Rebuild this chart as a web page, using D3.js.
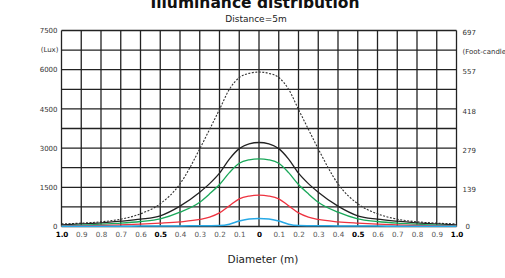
<!DOCTYPE html>
<html><head><meta charset="utf-8">
<script src="https://cdn.jsdelivr.net/npm/d3@7"></script>
<style>body{margin:0;background:#fff}svg{display:block}</style>
</head><body>
<svg id="c" width="505" height="278"></svg>
<script>
const diameter = [-1.0,-0.9,-0.8,-0.7,-0.6,-0.5,-0.4,-0.3,-0.25,-0.2,-0.15,-0.1,-0.05,0,0.05,0.1,0.15,0.2,0.25,0.3,0.4,0.5,0.6,0.7,0.8,0.9,1.0];
const rgbw  = [100,128,180,280,485,870,1630,2970,3720,4480,5250,5700,5860,5910,5860,5700,5250,4480,3720,2970,1630,870,485,280,180,128,100];
const white = [64,102,140,204,281,408,778,1314,1640,2040,2580,2980,3160,3214,3160,2980,2580,2040,1640,1314,778,408,281,204,140,102,64];
const green = [26,51,89,128,191,293,548,931,1250,1607,2060,2420,2550,2589,2550,2420,2060,1607,1250,931,548,293,191,128,89,51,26];
const red   = [13,26,38,64,89,128,179,270,360,520,790,1060,1165,1199,1165,1060,790,520,360,270,179,128,89,64,38,26,13];
const blue  = [5,8,10,12,15,18,22,26,28,34,85,210,288,306,288,210,85,34,28,26,22,18,15,12,10,8,5];
const xTicks = [-1,-0.9,-0.8,-0.7,-0.6,-0.5,-0.4,-0.3,-0.2,-0.1,0,0.1,0.2,0.3,0.4,0.5,0.6,0.7,0.8,0.9,1];
const boldTicks = [-1,-0.5,0,0.5,1];
const luxTicks = [0,1500,3000,4500,6000,7500];
const fcLabels = ["0","139","279","418","557","697"];
const legendNames = ["Red","Green","Blue","White","R+G+B+W"];

const svg = d3.select("#c");
const x = d3.scaleLinear().domain([-1,1]).range([61.5,456.5]);
const y = d3.scaleLinear().domain([0,7500]).range([226.5,30.5]);

// grid
const g = svg.append("g");
g.selectAll(".v").data(d3.range(-1,1.0001,0.1)).join("line")
 .attr("x1",d=>x(d)).attr("x2",d=>x(d)).attr("y1",y(7500)).attr("y2",y(0))
 .attr("stroke","#222").attr("stroke-width",1.3);
g.selectAll(".h").data(d3.range(0,7501,750)).join("line")
 .attr("x1",x(-1)).attr("x2",x(1)).attr("y1",d=>y(d)).attr("y2",d=>y(d))
 .attr("stroke","#222").attr("stroke-width",1.3);

// curves
const line = d3.line().x((d,i)=>x(diameter[i])).y(d=>y(d)).curve(d3.curveMonotoneX);
const series = [
 {v:rgbw, c:"#333", w:1.1, dash:"2,1.5"},
 {v:white, c:"#222", w:1.3},
 {v:green, c:"#1aa85a", w:1.3},
 {v:red, c:"#ee3340", w:1.3},
 {v:blue, c:"#27a9e6", w:1.5}
];
series.forEach(s=>{
  svg.append("path").datum(s.v).attr("d",line).attr("fill","none")
   .attr("stroke",s.c).attr("stroke-width",s.w).attr("stroke-dasharray",s.dash||null);
});

// x axis labels
const xa = svg.append("g").attr("transform",`translate(0,${y(0)})`)
 .call(d3.axisBottom(x).tickValues(xTicks).tickSize(0).tickPadding(5)
   .tickFormat(d=> d===0 ? "0" : Math.abs(d).toFixed(1)));
xa.select(".domain").remove();
xa.selectAll("text").attr("font-family","DejaVu Sans").attr("font-size",7.2)
 .attr("fill",d=>boldTicks.includes(d)?"#000":"#555")
 .attr("font-weight",d=>boldTicks.includes(d)?"bold":"normal");

// left axis labels
const ya = svg.append("g").attr("transform",`translate(${x(-1)},0)`)
 .call(d3.axisLeft(y).tickValues(luxTicks).tickSize(0).tickPadding(4).tickFormat(d3.format("d")));
ya.select(".domain").remove();
ya.selectAll("text").attr("font-family","DejaVu Sans").attr("font-size",7).attr("fill","#333");
svg.append("text").attr("x",x(-1)-3).attr("y",y(6750)).attr("dy","0.32em").attr("text-anchor","end")
 .attr("font-family","DejaVu Sans").attr("font-size",7).attr("fill","#333").text("(Lux)");

// right axis labels
const ra = svg.append("g").attr("transform",`translate(${x(1)},2)`)
 .call(d3.axisRight(y).tickValues(luxTicks).tickSize(0).tickPadding(6).tickFormat((d,i)=>fcLabels[i]));
ra.select(".domain").remove();
ra.selectAll("text").attr("font-family","DejaVu Sans").attr("font-size",7).attr("fill","#333");
ra.selectAll(".tick").filter(d=>d===0).select("text").attr("x",9).attr("y",-2);
svg.append("text").attr("x",x(1)+6).attr("y",y(6750)+2).attr("dy","0.32em")
 .attr("font-family","DejaVu Sans").attr("font-size",7).attr("fill","#333").text("(Foot-candle)");

// titles
svg.append("text").attr("x",255).attr("y",8).attr("text-anchor","middle")
 .attr("font-family","DejaVu Sans").attr("font-weight","bold").attr("font-size",15.5).attr("fill","#111")
 .text("Illuminance distribution");
svg.append("text").attr("x",256).attr("y",22).attr("text-anchor","middle")
 .attr("font-family","DejaVu Sans").attr("font-size",9).attr("fill","#222").text("Distance=5m");
svg.append("text").attr("x",263).attr("y",263).attr("text-anchor","middle")
 .attr("font-family","DejaVu Sans").attr("font-size",10.5).attr("fill","#222").text("Diameter (m)");

// legend (mostly cut off at bottom)
const legX = [97,168,250,320,402];
svg.selectAll(".leg").data(legendNames).join("text")
 .attr("x",(d,i)=>legX[i]).attr("y",286)
 .attr("font-family","DejaVu Sans").attr("font-size",11).attr("fill","#222")
 .attr("font-weight",d=>d==="Blue"?"bold":"normal").text(d=>d);
</script>
</body></html>
